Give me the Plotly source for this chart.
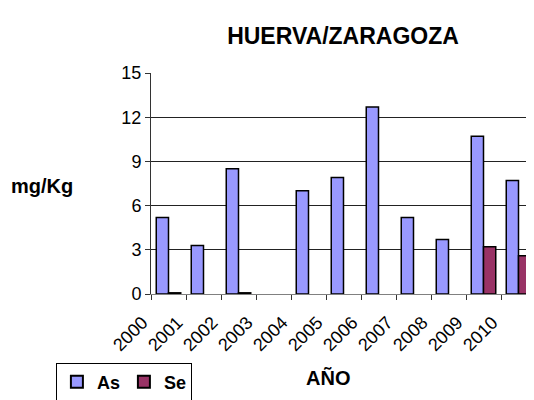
import plotly.graph_objects as go

years = ["2000", "2001", "2002", "2003", "2004", "2005", "2006", "2007", "2008", "2009", "2010"]
as_vals = [5.2, 3.3, 8.5, None, 7.0, 7.9, 12.7, 5.2, 3.7, 10.7, 7.7]
se_vals = [0.08, None, 0.08, None, None, None, None, None, None, 3.2, 2.6]
y_ticks = [0, 3, 6, 9, 12, 15]

FONT = "Liberation Sans, Arial, sans-serif"

fig = go.Figure()
fig.add_trace(go.Bar(
    x=years, y=as_vals, name="<b>As</b>",
    marker=dict(color="#9999FF", line=dict(color="#000000", width=1.5)),
))
fig.add_trace(go.Bar(
    x=years, y=se_vals, name="<b>Se</b>",
    marker=dict(color="#993366", line=dict(color="#000000", width=1.5)),
))

fig.update_layout(
    width=534, height=400,
    paper_bgcolor="white", plot_bgcolor="white",
    font=dict(family=FONT, color="#000000", size=18),
    margin=dict(l=143, r=6, t=65, b=105),
    barmode="group", bargap=0.3, bargroupgap=0.0,
    title=dict(text="<b>HUERVA/ZARAGOZA</b>", x=335 / 534, xanchor="center",
               y=1 - 28 / 400, yanchor="middle", font=dict(size=23)),
    showlegend=True,
    legend=dict(orientation="h", x=-0.247, xanchor="left", y=-0.31, yanchor="top",
                bordercolor="#000000", borderwidth=1, bgcolor="white",
                font=dict(size=18), itemsizing="constant",
                itemwidth=30, tracegroupgap=0, entrywidth=22),
    xaxis=dict(type="category", showline=True, linecolor="#808080", linewidth=1,
               ticks="outside", tickson="boundaries", ticklen=5, tickcolor="#333333",
               tickangle=-45, tickfont=dict(size=18), showgrid=False,
               ticklabelshift=-26, ticklabelstandoff=10),
    yaxis=dict(range=[0, 15], tickvals=y_ticks, showline=True, linecolor="#333333",
               ticks="outside", ticklen=5, tickcolor="#333333",
               showgrid=True, gridcolor="#222222", gridwidth=1,
               zeroline=False, tickfont=dict(size=18)),
    annotations=[
        dict(text="<b>mg/Kg</b>", xref="paper", yref="paper", x=-0.284, y=0.487,
             xanchor="center", yanchor="middle", showarrow=False, font=dict(size=20)),
        dict(text="<b>AÑO</b>", xref="paper", yref="paper", x=0.459, y=-0.378,
             xanchor="center", yanchor="middle", showarrow=False, font=dict(size=20)),
    ],
)

fig.write_html("out.html")
